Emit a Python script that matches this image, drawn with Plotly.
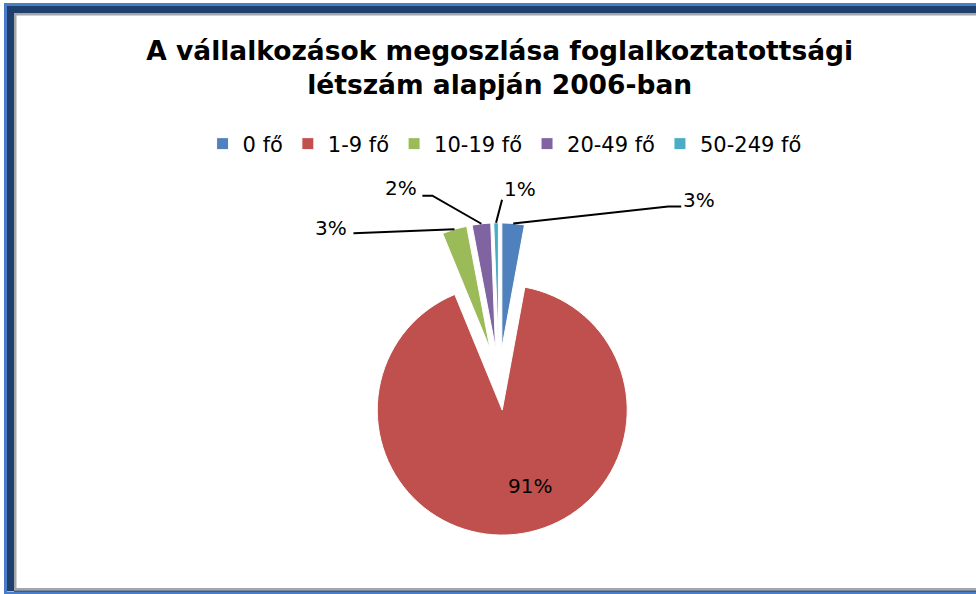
import math
import plotly.graph_objects as go

# ---- data ----
categories = ["0 fő", "1-9 fő", "10-19 fő", "20-49 fő", "50-249 fő"]
shares = [2.9, 90.9, 3.2, 2.4, 0.6]
colors = ["#4F81BD", "#C0504D", "#9BBB59", "#8064A2", "#4BACC6"]
title_text = "A vállalkozások megoszlása foglalkoztatottsági<br>létszám alapján 2006-ban"

# ---- layout constants (px) ----
W, H = 976, 594
PULL = 0.25
R = 125.0                 # slice radius in px
CX, CY = 499.0, 379.0     # pie centre in px
box = 2 * R * (1 + PULL)

def px2paper(x, y):
    return x / W, 1 - y / H

dom_x = [(CX - box / 2) / W, (CX + box / 2) / W]
dom_y = [1 - (CY + box / 2) / H, 1 - (CY - box / 2) / H]

fig = go.Figure(go.Pie(
    labels=categories, values=shares, sort=False, direction="clockwise",
    rotation=0, pull=[PULL] * len(shares),
    marker=dict(colors=colors, line=dict(color="white", width=1)),
    textposition="none",
    domain=dict(x=dom_x, y=dom_y), hoverinfo="label+percent",
))

# ---- data labels computed from the data ----
# offsets (px) relative to each slice's outer-edge midpoint (or, for the big slice,
# its pulled centre): label centre, then leader-line points (elbow, tail)
label_offsets = {
    0: dict(label=(186, -23), pts=[(168, -17), (155, -17)], edge=True),
    1: dict(label=(28, 76), pts=None, edge=False),
    2: dict(label=(-123, -1), pts=[(-101, 4)], edge=True),
    3: dict(label=(-80, -36), pts=[(-59, -28), (-49, -28)], edge=True),
    4: dict(label=(24, -34), pts=[(6, -23)], edge=True),
}
total = sum(shares)
cum = 0.0
shapes = []
annotations = []
for i, v in enumerate(shares):
    mid = (cum + v / 2) / total * 2 * math.pi
    cum += v
    off = label_offsets[i]
    rr = R * (1 + PULL) if off["edge"] else R * PULL
    hx = CX + rr * math.sin(mid)
    hy = CY - rr * math.cos(mid)
    if off["pts"]:
        pts = [(hx + dx, hy + dy) for dx, dy in off["pts"]] + [(hx, hy)]
        path = ""
        for k, (x, y) in enumerate(pts):
            px, py = px2paper(x, y)
            path += ("M" if k == 0 else "L") + f"{px:.5f},{py:.5f} "
        shapes.append(dict(type="path", xref="paper", yref="paper", path=path,
                           line=dict(color="black", width=2)))
    lx, ly = px2paper(hx + off["label"][0], hy + off["label"][1])
    annotations.append(dict(x=lx, y=ly, xref="paper", yref="paper",
                            text=f"{round(v / total * 100)}%", showarrow=False,
                            font=dict(family="DejaVu Sans", size=20, color="black"),
                            xanchor="center", yanchor="middle"))

# ---- frame ----
def rect(x0, y0, x1, y1, color):
    a, b = px2paper(x0, y0)
    c, d = px2paper(x1, y1)
    return dict(type="rect", xref="paper", yref="paper", x0=a, y0=d, x1=c, y1=b,
                line=dict(width=0), fillcolor=color, layer="above")

LIGHT, DARK, GREY = "#4A7DC8", "#1F3F6F", "#A6A6A6"
shapes += [
    rect(4, 3, W, 6, LIGHT),
    rect(4, 3, 7, H, LIGHT),
    rect(7, 6, W, 13, DARK),
    rect(7, 6, 14, 591, DARK),
    rect(14, 13, W, 15.5, GREY),
    rect(14, 13, 16.5, 589, GREY),
    rect(14, 588, W, 590.5, GREY),
    rect(14, 590.5, W, 592, DARK),
    rect(7, 591.5, W, H, LIGHT),
]

fig.update_layout(
    width=W, height=H, margin=dict(l=0, r=0, t=0, b=0),
    paper_bgcolor="white", plot_bgcolor="white",
    title=dict(text=title_text, x=0.512, xanchor="center", y=1 - 60 / H, yanchor="top",
               yref="container",
               font=dict(family="DejaVu Sans", size=26.5, color="black", weight="bold")),
    showlegend=True,
    legend=dict(orientation="h", x=0.517, xanchor="center", y=1 - 144 / H, yanchor="middle",
                font=dict(family="DejaVu Sans", size=21, color="#000000"),
                itemclick=False, traceorder="normal"),
    shapes=shapes, annotations=annotations,
)

fig.write_html("out.html", config={"displayModeBar": False},
               post_script="document.body.style.margin='0';")
